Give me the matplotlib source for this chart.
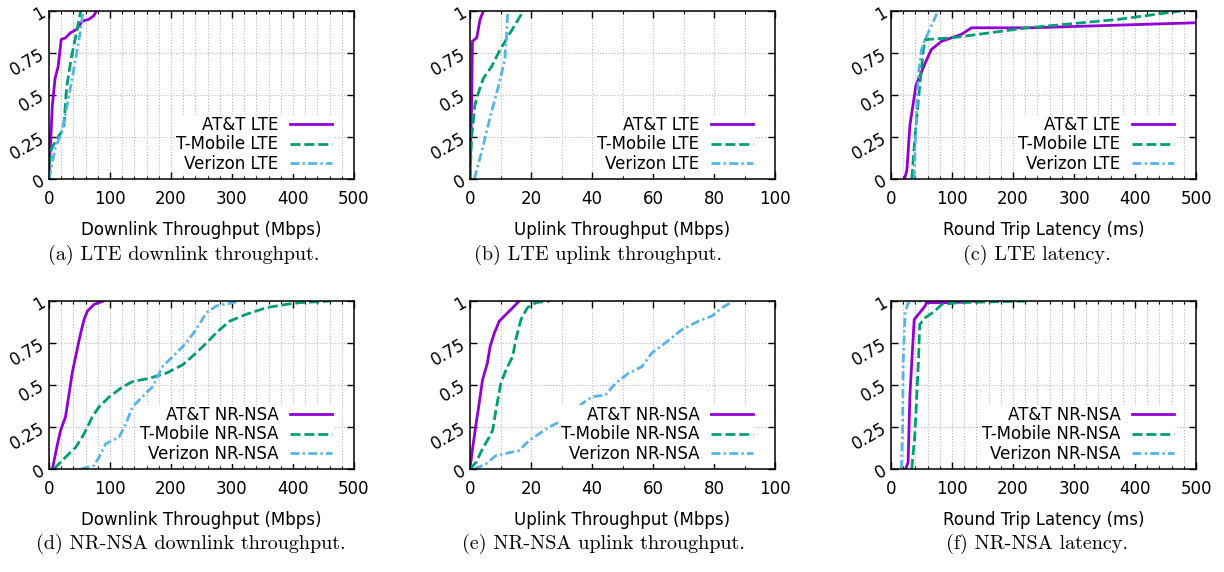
import matplotlib.pyplot as plt
from matplotlib.ticker import MultipleLocator

# series colours / styles (gnuplot defaults)
colors = ["#9400d3", "#009e73", "#56b4e9"]
dashes = [(None, None), (3.6, 1.4), (3.2, 1.2, 0.8, 1.2)]

# (a) LTE downlink throughput (Mbps)
lte_dl_att_x = [0, 1, 3, 5.5, 10, 15, 20, 27, 35, 45, 55, 65, 73, 78]
lte_dl_att_y = [0, 0.12, 0.24, 0.44, 0.6, 0.67, 0.83, 0.84, 0.87, 0.89, 0.94, 0.95, 0.97, 1.0]
lte_dl_tmo_x = [0, 1, 4, 13, 24, 29, 37, 45, 52]
lte_dl_tmo_y = [0, 0.1, 0.18, 0.24, 0.3, 0.55, 0.73, 0.87, 1.0]
lte_dl_vzw_x = [0, 10, 21, 32, 43, 51, 56]
lte_dl_vzw_y = [0, 0.18, 0.28, 0.48, 0.7, 0.87, 1.0]

# (b) LTE uplink throughput (Mbps)
lte_ul_att_x = [0, 0.2, 0.5, 0.8, 2.2, 3.3, 4.4]
lte_ul_att_y = [0, 0.2, 0.42, 0.82, 0.84, 0.95, 1.0]
lte_ul_tmo_x = [0, 0.5, 1.6, 2.7, 4.4, 7.1, 9.3, 12.5, 17.5]
lte_ul_tmo_y = [0, 0.24, 0.44, 0.51, 0.6, 0.67, 0.75, 0.85, 1.0]
lte_ul_vzw_x = [1.4, 3.8, 6.5, 9.3, 11.4, 12.0, 12.3, 12.6]
lte_ul_vzw_y = [0, 0.16, 0.36, 0.55, 0.71, 0.87, 0.97, 1.0]

# (c) LTE round trip latency (ms)
lte_lat_att_x = [22, 26, 31, 41, 47, 56, 66, 83, 99, 115, 132, 230, 500]
lte_lat_att_y = [0, 0.05, 0.32, 0.56, 0.61, 0.69, 0.77, 0.82, 0.84, 0.86, 0.9, 0.9, 0.93]
lte_lat_tmo_x = [34, 39, 47, 53, 56, 99, 224, 372, 475]
lte_lat_tmo_y = [0, 0.24, 0.55, 0.77, 0.83, 0.84, 0.9, 0.95, 1.0]
lte_lat_vzw_x = [38, 40, 45, 50, 56, 77]
lte_lat_vzw_y = [0, 0.24, 0.63, 0.77, 0.83, 1.0]

# (d) NR-NSA downlink throughput (Mbps)
nr_dl_att_x = [5.5, 14, 19, 27, 33, 38, 46.6, 52, 57.5, 63, 74, 89]
nr_dl_att_y = [0, 0.15, 0.23, 0.31, 0.45, 0.57, 0.72, 0.81, 0.89, 0.94, 0.98, 1.0]
nr_dl_tmo_x = [8, 27, 44, 57.5, 71, 82, 99, 121, 137, 164, 192, 219, 241, 258, 274,
               296, 323, 356, 389, 411, 463]
nr_dl_tmo_y = [0, 0.07, 0.13, 0.21, 0.31, 0.37, 0.43, 0.49, 0.52, 0.54, 0.57, 0.62,
               0.69, 0.75, 0.81, 0.88, 0.92, 0.96, 0.98, 0.99, 1.0]
nr_dl_vzw_x = [52, 74, 82, 93, 115, 126, 137, 153, 170, 186, 203, 225, 241, 258, 274, 301, 312]
nr_dl_vzw_y = [0, 0.02, 0.07, 0.15, 0.19, 0.27, 0.37, 0.43, 0.49, 0.61, 0.67, 0.75,
               0.83, 0.93, 0.97, 0.99, 1.0]

# (e) NR-NSA uplink throughput (Mbps)
nr_ul_att_x = [0, 0.9, 2, 3, 4.1, 5.7, 6.6, 8, 9.6, 11.8, 14, 16.1]
nr_ul_att_y = [0, 0.13, 0.27, 0.39, 0.53, 0.63, 0.73, 0.81, 0.88, 0.92, 0.96, 1.0]
nr_ul_tmo_x = [0, 2, 4.1, 6.3, 7.4, 8.5, 10.1, 11.8, 14, 15, 16.7, 18.8, 21.6, 26.2]
nr_ul_tmo_y = [0, 0.04, 0.12, 0.19, 0.23, 0.35, 0.51, 0.59, 0.67, 0.77, 0.89, 0.96, 0.99, 1.0]
nr_ul_vzw_x = [1.4, 5.2, 8.5, 16.1, 19.4, 26, 32.5, 36.8, 40, 44.4, 47.7, 52, 56.4,
               59.6, 64, 69.5, 74.9, 79.3, 82.6, 86.4]
nr_ul_vzw_y = [0, 0.03, 0.08, 0.11, 0.17, 0.25, 0.31, 0.39, 0.43, 0.44, 0.51, 0.57,
               0.61, 0.69, 0.75, 0.83, 0.88, 0.91, 0.96, 1.0]

# (f) NR-NSA round trip latency (ms)
nr_lat_att_x = [24, 28, 31, 38, 47, 56, 58, 102, 137]
nr_lat_att_y = [0, 0.04, 0.44, 0.89, 0.93, 0.97, 0.99, 0.99, 1.0]
nr_lat_tmo_x = [34, 39, 45, 47, 56, 72, 83, 110, 225]
nr_lat_tmo_y = [0, 0.2, 0.64, 0.86, 0.9, 0.94, 0.98, 0.99, 1.0]
nr_lat_vzw_x = [17, 19, 20, 23, 28, 50]
nr_lat_vzw_y = [0, 0.24, 0.64, 0.92, 0.99, 1.0]

yticks = [0, 0.25, 0.5, 0.75, 1]
ytick_labels = ["0", "0.25", "0.5", "0.75", "1"]

panels = [
    ("LTE", [(lte_dl_att_x, lte_dl_att_y), (lte_dl_tmo_x, lte_dl_tmo_y), (lte_dl_vzw_x, lte_dl_vzw_y)],
     500, 100, 20, "Downlink Throughput (Mbps)", "(a) LTE downlink throughput."),
    ("LTE", [(lte_ul_att_x, lte_ul_att_y), (lte_ul_tmo_x, lte_ul_tmo_y), (lte_ul_vzw_x, lte_ul_vzw_y)],
     100, 20, 10, "Uplink Throughput (Mbps)", "(b) LTE uplink throughput."),
    ("LTE", [(lte_lat_att_x, lte_lat_att_y), (lte_lat_tmo_x, lte_lat_tmo_y), (lte_lat_vzw_x, lte_lat_vzw_y)],
     500, 100, 20, "Round Trip Latency (ms)", "(c) LTE latency."),
    ("NR-NSA", [(nr_dl_att_x, nr_dl_att_y), (nr_dl_tmo_x, nr_dl_tmo_y), (nr_dl_vzw_x, nr_dl_vzw_y)],
     500, 100, 20, "Downlink Throughput (Mbps)", "(d) NR-NSA downlink throughput."),
    ("NR-NSA", [(nr_ul_att_x, nr_ul_att_y), (nr_ul_tmo_x, nr_ul_tmo_y), (nr_ul_vzw_x, nr_ul_vzw_y)],
     100, 20, 10, "Uplink Throughput (Mbps)", "(e) NR-NSA uplink throughput."),
    ("NR-NSA", [(nr_lat_att_x, nr_lat_att_y), (nr_lat_tmo_x, nr_lat_tmo_y), (nr_lat_vzw_x, nr_lat_vzw_y)],
     500, 100, 20, "Round Trip Latency (ms)", "(f) NR-NSA latency."),
]
carriers = ["AT&T", "T-Mobile", "Verizon"]

W, H = 1224, 572
fig = plt.figure(figsize=(W / 100, H / 100), dpi=100)
plt.rcParams["font.family"] = "DejaVu Sans"

ax_left = [49, 470, 891]
ax_top = [11, 301]
caption_x = [[184, 598, 1037], [191, 603, 1037]]
caption_y = [255, 544]
aw, ah = 305, 168

for i, (tech, series, xmax, major, minor, xlabel, caption) in enumerate(panels):
    r, c = divmod(i, 3)
    ax = fig.add_axes([ax_left[c] / W, 1 - (ax_top[r] + ah) / H, aw / W, ah / H])
    for k, (xs, ys) in enumerate(series):
        line, = ax.plot(xs, ys, color=colors[k], lw=2, label=f"{carriers[k]} {tech}")
        if dashes[k][0] is not None:
            line.set_dashes(dashes[k])
    ax.set_xlim(0, xmax)
    ax.set_ylim(0, 1)
    ax.xaxis.set_major_locator(MultipleLocator(major))
    ax.xaxis.set_minor_locator(MultipleLocator(minor))
    ax.set_yticks(yticks)
    ax.set_yticklabels(ytick_labels, rotation=30, ha="right", va="center",
                       rotation_mode="anchor")
    ax.grid(True, which="both", axis="x", color="#b8b8b8", ls=":", lw=0.8)
    ax.grid(True, which="major", axis="y", color="#b8b8b8", ls=":", lw=0.8)
    ax.set_axisbelow(True)
    ax.tick_params(which="both", direction="in", top=True, right=True, labelsize=12)
    ax.tick_params(which="major", length=5, width=1)
    ax.tick_params(which="minor", length=2.5, width=0.8)
    ax.tick_params(axis="x", pad=8)
    ax.tick_params(axis="y", pad=4)
    for s in ax.spines.values():
        s.set_linewidth(1.1)
    ax.set_xlabel(xlabel, fontsize=12, labelpad=9)
    leg = ax.legend(loc="lower right", bbox_to_anchor=(0.93, 0.03), fontsize=12,
                    markerfirst=False, frameon=True, fancybox=False, framealpha=1,
                    edgecolor="none", facecolor="white",
                    handlelength=2.5, handletextpad=0.7, labelspacing=0.1,
                    borderaxespad=0, borderpad=0.05)
    leg.set_zorder(5)
    fig.text(caption_x[r][c] / W, 1 - caption_y[r] / H, caption, ha="center", va="center",
             fontsize=14.5, family=["cmr10", "DejaVu Serif"])

fig.savefig("out.png", dpi=100)
